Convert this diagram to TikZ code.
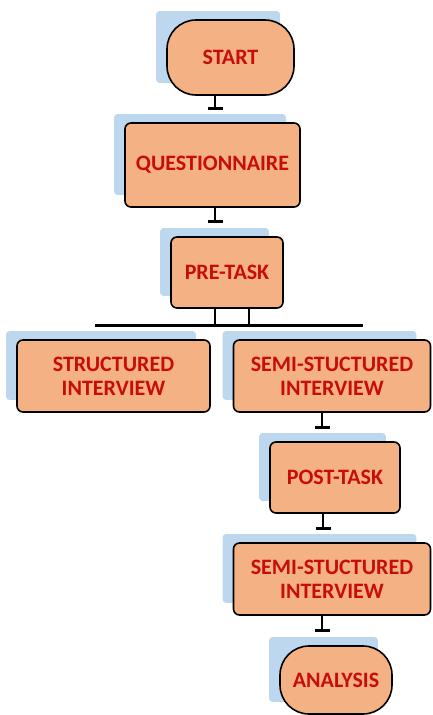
\documentclass[tikz,border=0pt]{standalone}
\usepackage{fontspec}
\setmainfont{Carlito}
\usetikzlibrary{arrows.meta,calc,backgrounds}

\definecolor{boxColor}{RGB}{244,177,131}
\definecolor{shadowColor}{RGB}{189,215,238}
\definecolor{labelColor}{RGB}{200,12,12}

\tikzset{
  stage/.style={draw, line width=1.6pt, fill=boxColor, rounded corners=6pt,
    text=labelColor, font=\fontsize{22}{24}\selectfont\bfseries,
    align=center, inner sep=0pt},
  terminal/.style={stage, rounded corners=29pt},
  link/.style={line width=2.4pt, -{Bar[width=15pt,line width=2.4pt]}},
}

\begin{document}
\begin{tikzpicture}[x=1pt,y=-1pt]
  \useasboundingbox (0,0) rectangle (433,715);
  % Stages
  \node[terminal, minimum width=127pt, minimum height=75pt] (start) at (230.5,57.5) {START};
  \node[stage, minimum width=175pt, minimum height=84pt] (quest) at (212.5,165) {QUESTIONNAIRE};
  \node[stage, minimum width=112pt, minimum height=71pt] (pre) at (227,272.5) {PRE-TASK};
  \node[stage, minimum width=193pt, minimum height=72pt] (struct) at (113.5,376) {STRUCTURED\\INTERVIEW};
  \node[stage, minimum width=197pt, minimum height=72pt] (semiA) at (332,376) {SEMI-STUCTURED\\INTERVIEW};
  \node[stage, minimum width=130pt, minimum height=71pt] (post) at (335,477.5) {POST-TASK};
  \node[stage, minimum width=197pt, minimum height=72pt] (semiB) at (332,579) {SEMI-STUCTURED\\INTERVIEW};
  \node[terminal, minimum width=112pt, minimum height=68pt] (ana) at (336,680) {ANALYSIS};
  % Shadows
  \begin{scope}[on background layer]
    \foreach \n in {start,quest,pre,struct,semiA,post,semiB,ana}
      \fill[shadowColor, rounded corners=3pt] ([shift={(-10pt,8pt)}]\n.north west) rectangle ([shift={(-15pt,13pt)}]\n.south east);
  \end{scope}
  % Links
  \draw[link] ([xshift=2.5pt]start.south -| quest.north) -- ($([xshift=2.5pt]start.south -| quest.north)+(0,14)$);
  \draw[link] ([xshift=2.5pt]quest.south) -- ($([xshift=2.5pt]quest.south)+(0,15)$);
  \draw[link] ([xshift=-10pt]semiA.south) -- ($([xshift=-10pt]semiA.south)+(0,16)$);
  \draw[link] ([xshift=-12pt]post.south) -- ($([xshift=-12pt]post.south)+(0,16)$);
  \draw[link] ([xshift=-10pt]semiB.south) -- ($([xshift=-10pt]semiB.south)+(0,16)$);
  % Branch under pre-task
  \coordinate (barL) at (95,325);
  \coordinate (barR) at (363,325);
  \draw[line width=3pt] (barL) -- (barR);
  \draw[line width=2.4pt] ([xshift=-12pt]pre.south) -- ([xshift=-12pt]pre.south |- barL);
  \draw[line width=2.4pt] ([xshift=22pt]pre.south) -- ([xshift=22pt]pre.south |- barL);
\end{tikzpicture}
\end{document}
